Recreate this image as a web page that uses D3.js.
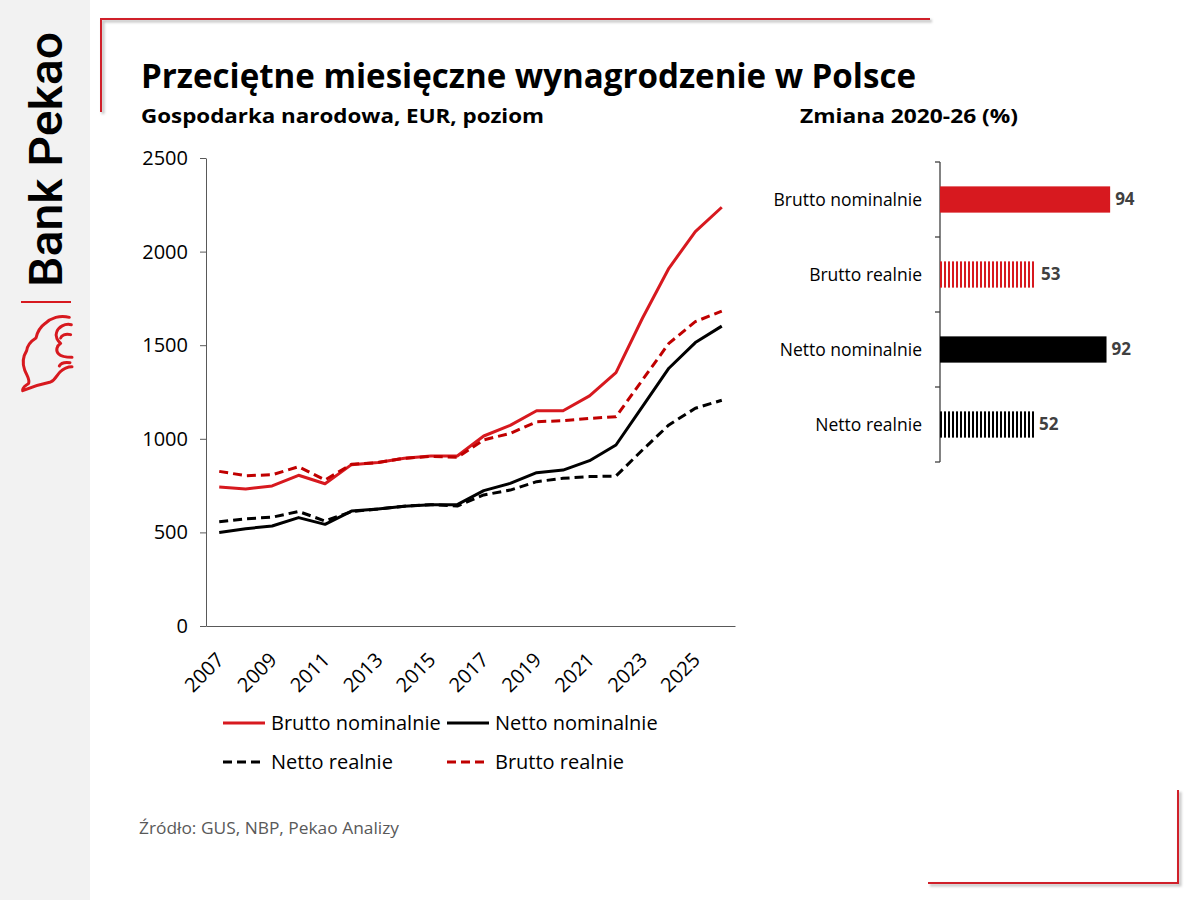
<!DOCTYPE html>
<html>
<head>
<meta charset="utf-8">
<script src="https://cdn.jsdelivr.net/npm/d3@7"></script>
<style>
  body { margin: 0; background: #fff; }
  svg { display: block; }
</style>
</head>
<body>
<svg id="chart" width="1200" height="900"></svg>
<script>
//----------------------------------------------------------------------------------------------------------------------
// Data
//----------------------------------------------------------------------------------------------------------------------
const years = [2007, 2008, 2009, 2010, 2011, 2012, 2013, 2014, 2015, 2016,
               2017, 2018, 2019, 2020, 2021, 2022, 2023, 2024, 2025, 2026];
const bruttoNominalnie = [742, 732, 748, 805, 760, 862, 873, 896, 908, 908,
                          1015, 1072, 1150, 1150, 1229, 1353, 1644, 1911, 2107, 2237];
const nettoNominalnie = [500, 520, 534, 579, 543, 614, 625, 640, 648, 648,
                         723, 762, 819, 833, 883, 967, 1172, 1377, 1514, 1602];
const nettoRealnie = [557, 573, 581, 612, 561, 611, 625, 640, 648, 641,
                      700, 726, 771, 789, 798, 801, 940, 1074, 1163, 1206];
const bruttoRealnie = [826, 803, 808, 851, 780, 864, 873, 896, 906, 901,
                       994, 1029, 1091, 1097, 1109, 1118, 1314, 1510, 1626, 1682];
const yTickValues = [0, 500, 1000, 1500, 2000, 2500];
const xTickYears = [2007, 2009, 2011, 2013, 2015, 2017, 2019, 2021, 2023, 2025];

const changeLabels = ["Brutto nominalnie", "Brutto realnie", "Netto nominalnie", "Netto realnie"];
const changeValues = [94, 53, 92, 52];

//----------------------------------------------------------------------------------------------------------------------
// Styles
//----------------------------------------------------------------------------------------------------------------------
const FONT = "'Open Sans', 'DejaVu Sans', sans-serif";
const RED = "#d7191f";
const DARK_RED = "#c00000";
const series = [
    {name: "Brutto nominalnie", values: bruttoNominalnie, color: RED, dash: null},
    {name: "Netto nominalnie", values: nettoNominalnie, color: "#000", dash: null},
    {name: "Netto realnie", values: nettoRealnie, color: "#000", dash: "9,5"},
    {name: "Brutto realnie", values: bruttoRealnie, color: DARK_RED, dash: "9,5"}
];

const svg = d3.select("#chart");
const defs = svg.append("defs");

defs.append("filter").attr("id", "shadow")
    .append("feGaussianBlur").attr("stdDeviation", 1.2);

function stripes(id, color) {
    const p = defs.append("pattern").attr("id", id)
        .attr("patternUnits", "userSpaceOnUse")
        .attr("width", 4).attr("height", 4);
    p.append("rect").attr("width", 4).attr("height", 4).attr("fill", "#fff");
    p.append("rect").attr("width", 2).attr("height", 4).attr("fill", color);
}
stripes("stripeRed", RED);
stripes("stripeBlack", "#000");

//----------------------------------------------------------------------------------------------------------------------
// Page frame: grey strip, logo, brackets
//----------------------------------------------------------------------------------------------------------------------
svg.append("rect").attr("width", 90).attr("height", 900).attr("fill", "#f2f2f2");

svg.append("text")
    .attr("transform", "translate(62,287) rotate(-90)")
    .attr("font-family", "Roboto, 'Open Sans', sans-serif")
    .attr("font-weight", 500)
    .attr("font-size", 46)
    .attr("textLength", 255)
    .attr("lengthAdjust", "spacingAndGlyphs")
    .attr("fill", "#000")
    .text("Bank Pekao");

svg.append("line").attr("x1", 21).attr("x2", 71).attr("y1", 302).attr("y2", 302)
    .attr("stroke", RED).attr("stroke-width", 2);

// stylised bison mark (drawn at 3x, scaled down)
svg.append("path")
    .attr("transform", "translate(10,300) scale(0.3333)")
    .attr("d", "M178,52 C150,44 122,54 106,70 C92,80 82,96 78,114 C62,124 52,138 50,152 " +
               "C40,168 36,188 44,210 C50,226 60,238 56,250 C46,258 36,262 38,272 " +
               "C62,262 92,252 122,246 C136,240 140,226 150,216 C160,206 170,200 186,200 " +
               "M184,74 C164,70 146,80 140,96 C134,110 144,124 152,130 C140,138 136,152 146,162 " +
               "C152,168 166,172 186,172 " +
               "M182,104 C166,100 154,106 152,114 " +
               "M180,188 C164,186 152,190 148,198")
    .attr("fill", "none")
    .attr("stroke", RED)
    .attr("stroke-width", 9)
    .attr("stroke-linecap", "round")
    .attr("stroke-linejoin", "round");

function bracket(pts) {
    const line = d3.line();
    svg.append("path").attr("d", line(pts.map(p => [p[0] + 2, p[1] + 2])))
        .attr("fill", "none").attr("stroke", "#c8c8c8").attr("stroke-width", 3)
        .attr("filter", "url(#shadow)");
    svg.append("path").attr("d", line(pts))
        .attr("fill", "none").attr("stroke", "#d0202a").attr("stroke-width", 2);
}
bracket([[101, 112], [101, 19], [930, 19]]);
bracket([[928, 883], [1178, 883], [1178, 790]]);

//----------------------------------------------------------------------------------------------------------------------
// Titles
//----------------------------------------------------------------------------------------------------------------------
svg.append("text").attr("x", 141).attr("y", 88)
    .attr("font-family", FONT).attr("font-weight", 700).attr("font-size", 34)
    .attr("textLength", 775).attr("lengthAdjust", "spacingAndGlyphs")
    .text("Przeciętne miesięczne wynagrodzenie w Polsce");

svg.append("text").attr("x", 141).attr("y", 123)
    .attr("font-family", FONT).attr("font-weight", 700).attr("font-size", 20)
    .attr("textLength", 403).attr("lengthAdjust", "spacingAndGlyphs")
    .text("Gospodarka narodowa, EUR, poziom");

svg.append("text").attr("x", 800).attr("y", 123)
    .attr("font-family", FONT).attr("font-weight", 700).attr("font-size", 20)
    .attr("textLength", 218).attr("lengthAdjust", "spacingAndGlyphs")
    .text("Zmiana 2020-26 (%)");

svg.append("text").attr("x", 139).attr("y", 834)
    .attr("font-family", FONT).attr("font-size", 17).attr("fill", "#595959")
    .attr("textLength", 260).attr("lengthAdjust", "spacingAndGlyphs")
    .text("Źródło: GUS, NBP, Pekao Analizy");

//----------------------------------------------------------------------------------------------------------------------
// Line chart
//----------------------------------------------------------------------------------------------------------------------
const x = d3.scaleBand().domain(years).range([206, 735]);
const y = d3.scaleLinear().domain([0, 2500]).range([626, 158]);
const cx = d => x(d) + x.bandwidth() / 2;

const yAxis = svg.append("g")
    .attr("transform", "translate(206,0)")
    .call(d3.axisLeft(y).tickValues(yTickValues).tickFormat(d3.format("d"))
        .tickSize(6).tickSizeOuter(0).tickPadding(12));
yAxis.select(".domain").attr("stroke", "#595959");
yAxis.selectAll(".tick line").attr("stroke", "#595959");
yAxis.selectAll("text").attr("font-family", FONT).attr("font-size", 20).attr("fill", "#000");

const xAxis = svg.append("g")
    .attr("transform", "translate(0,626)")
    .call(d3.axisBottom(x).tickValues(xTickYears).tickSize(0).tickSizeOuter(0));
xAxis.select(".domain").attr("stroke", "#595959");
xAxis.selectAll("text")
    .attr("font-family", FONT).attr("font-size", 20).attr("fill", "#000")
    .attr("text-anchor", "end")
    .attr("dy", "0.35em")
    .attr("transform", "translate(-1,28) rotate(-45)");

const line = d3.line().x((d, i) => cx(years[i])).y(d => y(d));

svg.append("g").selectAll("path")
    .data(series)
    .join("path")
    .attr("d", d => line(d.values))
    .attr("fill", "none")
    .attr("stroke", d => d.color)
    .attr("stroke-width", 3)
    .attr("stroke-dasharray", d => d.dash)
    .attr("stroke-linejoin", "round");

// legend (2 x 2)
const legend = svg.append("g").selectAll("g")
    .data(series)
    .join("g")
    .attr("transform", (d, i) => "translate(" + [223, 447][i % 2] + "," + [723, 762][Math.floor(i / 2)] + ")");
legend.append("line")
    .attr("x1", 0).attr("x2", 42)
    .attr("stroke", d => d.color).attr("stroke-width", 3)
    .attr("stroke-dasharray", d => d.dash);
legend.append("text")
    .attr("x", 48).attr("dy", "0.35em")
    .attr("font-family", FONT).attr("font-size", 20)
    .text(d => d.name);

//----------------------------------------------------------------------------------------------------------------------
// Bar chart: change 2020-26
//----------------------------------------------------------------------------------------------------------------------
const bx = d3.scaleLinear().domain([0, 100]).range([940, 1121]);
const by = d3.scaleBand().domain(changeLabels).range([162, 462])
    .paddingInner(0.65).paddingOuter(0.325);
const barFill = [RED, "url(#stripeRed)", "#000", "url(#stripeBlack)"];

const bars = svg.append("g");
bars.append("line").attr("x1", 940).attr("x2", 940).attr("y1", 162).attr("y2", 462)
    .attr("stroke", "#404040").attr("stroke-width", 1.3);
bars.selectAll(".btick")
    .data(d3.range(changeLabels.length + 1))
    .join("line")
    .attr("x1", 935).attr("x2", 940)
    .attr("y1", i => 162 + i * by.step()).attr("y2", i => 162 + i * by.step())
    .attr("stroke", "#404040").attr("stroke-width", 1.3);

bars.selectAll("rect")
    .data(changeValues)
    .join("rect")
    .attr("x", bx(0))
    .attr("y", (d, i) => by(changeLabels[i]))
    .attr("width", d => bx(d) - bx(0))
    .attr("height", by.bandwidth())
    .attr("fill", (d, i) => barFill[i]);

bars.selectAll(".val")
    .data(changeValues)
    .join("text")
    .attr("x", d => bx(d) + 5)
    .attr("y", (d, i) => by(changeLabels[i]) + by.bandwidth() / 2)
    .attr("dy", "0.35em")
    .attr("font-family", FONT).attr("font-weight", 700).attr("font-size", 17)
    .attr("fill", "#404040")
    .text(d => d);

bars.selectAll(".cat")
    .data(changeLabels)
    .join("text")
    .attr("x", 922)
    .attr("y", d => by(d) + by.bandwidth() / 2)
    .attr("dy", "0.35em")
    .attr("text-anchor", "end")
    .attr("font-family", FONT).attr("font-size", 17.5)
    .text(d => d);
</script>
</body>
</html>
